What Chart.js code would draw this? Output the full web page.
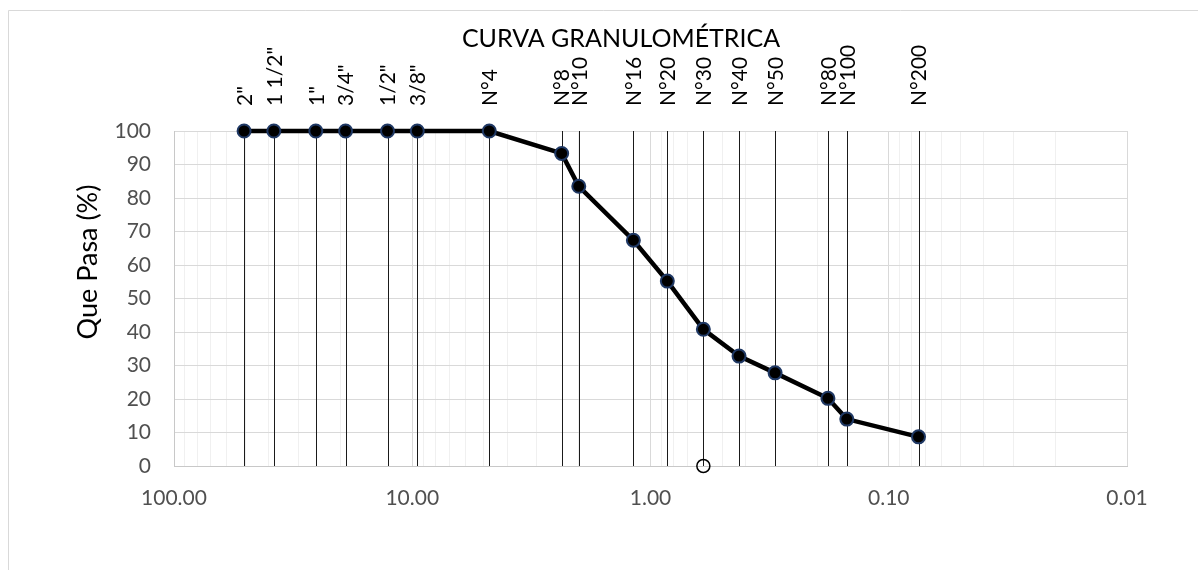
<!DOCTYPE html>
<html>
<head>
<meta charset="utf-8">
<script src="https://cdn.jsdelivr.net/npm/chart.js@4/dist/chart.umd.min.js"></script>
<style>
  html, body { margin: 0; padding: 0; background: #fff; }
  #wrap { position: relative; width: 1198px; height: 570px; }
</style>
</head>
<body>
<div id="wrap"><canvas id="c" width="1198" height="570"></canvas></div>
<script>
// Sieve series (ASTM) with opening in mm and % passing
const sieveNames = ['2"', '1 1/2"', '1"', '3/4"', '1/2"', '3/8"', 'N°4', 'N°8', 'N°10', 'N°16', 'N°20', 'N°30', 'N°40', 'N°50', 'N°80', 'N°100', 'N°200'];
const sieveOpenings = [50.8, 38.1, 25.4, 19.05, 12.7, 9.525, 4.75, 2.36, 2.0, 1.18, 0.85, 0.6, 0.425, 0.3, 0.18, 0.15, 0.075];
const percentPassing = [100, 100, 100, 100, 100, 100, 100, 93.3, 83.5, 67.4, 55.2, 40.8, 32.8, 27.8, 20.2, 14.0, 8.7];

// Reference marker on the horizontal axis
const markerOpening = [0.6];
const markerValue = [0];

// Axis labels
const xTickValues = [100, 10, 1, 0.1, 0.01];
const yTickValues = [0, 10, 20, 30, 40, 50, 60, 70, 80, 90, 100];

const chartTitle = 'CURVA GRANULOMÉTRICA';
const yTitle = 'Que Pasa (%)';

const FONT = 'Lato, "Open Sans", sans-serif';

function isDecade(v) {
  const l = Math.log10(v);
  return Math.abs(l - Math.round(l)) < 1e-9;
}

const decoration = {
  id: 'decoration',
  beforeDraw(chart) {
    const ctx = chart.ctx;
    ctx.save();
    ctx.fillStyle = '#fff';
    ctx.fillRect(0, 0, chart.width, chart.height);
    ctx.strokeStyle = '#d9d9d9';
    ctx.lineWidth = 1;
    ctx.beginPath();
    ctx.moveTo(8.5, chart.height);
    ctx.lineTo(8.5, 10.5);
    ctx.lineTo(chart.width, 10.5);
    ctx.stroke();
    ctx.restore();
  },
  beforeDatasetsDraw(chart) {
    const ctx = chart.ctx;
    const xs = chart.scales.x, ys = chart.scales.y;
    const top = ys.getPixelForValue(100), bottom = ys.getPixelForValue(0);
    ctx.save();
    ctx.strokeStyle = '#1a1a1a';
    ctx.lineWidth = 1;
    sieveOpenings.forEach(d => {
      const x = Math.round(xs.getPixelForValue(d)) + 0.5;
      ctx.beginPath();
      ctx.moveTo(x, top);
      ctx.lineTo(x, bottom);
      ctx.stroke();
    });
    // sieve names, rotated
    ctx.fillStyle = '#000';
    ctx.font = '21px ' + FONT;
    ctx.textAlign = 'left';
    ctx.textBaseline = 'middle';
    sieveOpenings.forEach((d, i) => {
      const x = xs.getPixelForValue(d);
      ctx.save();
      ctx.translate(x + 1, top - 25);
      ctx.rotate(-Math.PI / 2);
      ctx.fillText(sieveNames[i], 0, 0);
      ctx.restore();
    });
    // chart title
    ctx.font = '25px ' + FONT;
    ctx.textAlign = 'center';
    ctx.fillText(chartTitle, 621, 39);
    // y axis title
    ctx.save();
    ctx.translate(88, 262);
    ctx.rotate(-Math.PI / 2);
    ctx.font = '27px ' + FONT;
    ctx.fillText(yTitle, 0, 0);
    ctx.restore();
    ctx.restore();
  }
};

new Chart(document.getElementById('c'), {
  type: 'scatter',
  data: {
    datasets: [
      {
        label: 'Curva',
        data: sieveOpenings.map((d, i) => ({ x: d, y: percentPassing[i] })),
        showLine: true,
        borderColor: '#000',
        borderWidth: 4.5,
        pointRadius: 6.5,
        pointBackgroundColor: '#000',
        pointBorderColor: '#1F3864',
        pointBorderWidth: 2,
        clip: false
      },
      {
        label: 'Marca',
        data: markerOpening.map((d, i) => ({ x: d, y: markerValue[i] })),
        showLine: false,
        pointRadius: 6.5,
        pointBackgroundColor: 'rgba(0,0,0,0)',
        pointBorderColor: '#000',
        pointBorderWidth: 1.5,
        clip: false
      }
    ]
  },
  options: {
    responsive: false,
    animation: false,
    devicePixelRatio: 1,
    layout: { padding: { top: 131, right: 71, bottom: 0, left: 0 } },
    plugins: {
      legend: { display: false },
      title: { display: false },
      tooltip: { enabled: false }
    },
    scales: {
      x: {
        type: 'logarithmic',
        reverse: true,
        min: 0.01,
        max: 100,
        afterBuildTicks(scale) {
          const ticks = [];
          for (let e = -2; e <= 1; e++) {
            for (let m = 1; m <= 9; m++) {
              ticks.push({ value: Number((m * Math.pow(10, e)).toPrecision(6)) });
            }
          }
          ticks.push({ value: 100 });
          scale.ticks = ticks;
        },
        afterFit(scale) { scale.height = 104; },
        ticks: {
          autoSkip: false,
          maxRotation: 0,
          minRotation: 0,
          padding: 20,
          color: '#505050',
          font: { family: FONT, size: 21 },
          callback(value) {
            const t = xTickValues.find(v => Math.abs(v - value) / v < 1e-9);
            return t !== undefined ? t.toFixed(2) : '';
          }
        },
        grid: {
          drawTicks: false,
          color: c => (c.tick && isDecade(c.tick.value)) ? '#d9d9d9' : '#f0f0f0',
          lineWidth: 1
        },
        border: { color: '#c8c8c8' }
      },
      y: {
        min: 0,
        max: 100,
        afterBuildTicks(scale) {
          scale.ticks = yTickValues.map(v => ({ value: v }));
        },
        afterFit(scale) { scale.width = 174; },
        ticks: {
          padding: 23,
          color: '#505050',
          font: { family: FONT, size: 21 }
        },
        grid: { drawTicks: false, color: '#d9d9d9' },
        border: { color: '#c8c8c8' }
      }
    }
  },
  plugins: [decoration]
});
</script>
</body>
</html>
